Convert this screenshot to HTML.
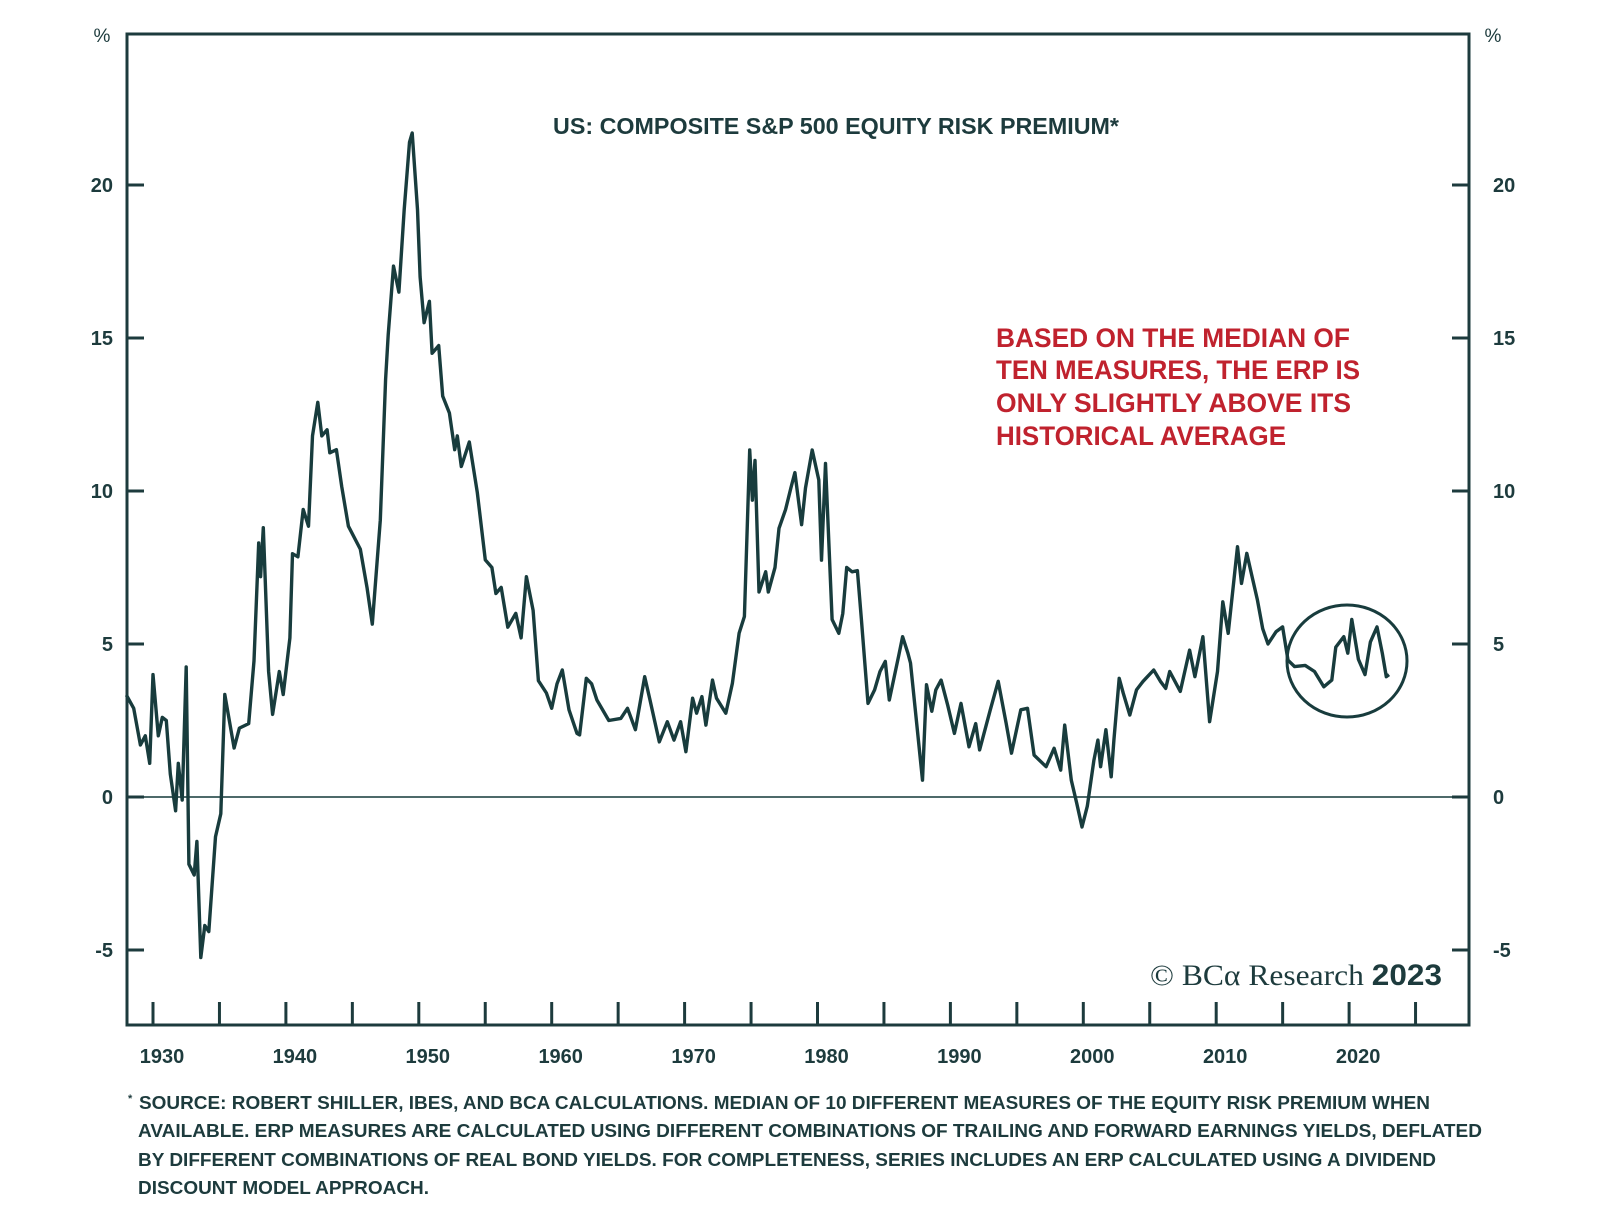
<!DOCTYPE html>
<html><head><meta charset="utf-8"><style>
html,body{margin:0;padding:0;background:#fff;}
svg{display:block;}
text{font-family:"Liberation Sans",sans-serif;fill:#1d3b3d;}
</style></head><body>
<svg id="chart" width="1600" height="1225" viewBox="0 0 1600 1225" xmlns="http://www.w3.org/2000/svg">
<rect x="0" y="0" width="1600" height="1225" fill="#fff"/>
<g id="axes"></g>
<path id="series" fill="none" stroke="#183c3d" stroke-width="3.4" stroke-linejoin="round"/>
<ellipse cx="1347" cy="661" rx="60" ry="56" fill="none" stroke="#183c3d" stroke-width="3"/>
<text x="553" y="134" font-size="23" font-weight="bold" textLength="566" lengthAdjust="spacingAndGlyphs">US: COMPOSITE S&amp;P 500 EQUITY RISK PREMIUM*</text>
<g font-size="27" font-weight="bold">
<text x="996" y="347" style="fill:#c0222e" textLength="354" lengthAdjust="spacingAndGlyphs">BASED ON THE MEDIAN OF</text>
<text x="996" y="379" style="fill:#c0222e" textLength="364" lengthAdjust="spacingAndGlyphs">TEN MEASURES, THE ERP IS</text>
<text x="996" y="412" style="fill:#c0222e" textLength="355" lengthAdjust="spacingAndGlyphs">ONLY SLIGHTLY ABOVE ITS</text>
<text x="996" y="445" style="fill:#c0222e" textLength="290" lengthAdjust="spacingAndGlyphs">HISTORICAL AVERAGE</text>
</g>
<text x="1150" y="985" font-size="30" textLength="292" lengthAdjust="spacingAndGlyphs"><tspan font-family="Liberation Serif, serif">© BCα Research </tspan><tspan font-weight="bold">2023</tspan></text>
<text x="102" y="42" font-size="19" text-anchor="middle">%</text>
<text x="1493" y="42" font-size="19" text-anchor="middle">%</text>
<g font-size="18" font-weight="bold">
<text x="128" y="1102" font-size="11">*</text>
<text x="139" y="1109" textLength="1291" lengthAdjust="spacingAndGlyphs">SOURCE: ROBERT SHILLER, IBES, AND BCA CALCULATIONS. MEDIAN OF 10 DIFFERENT MEASURES OF THE EQUITY RISK PREMIUM WHEN</text>
<text x="138" y="1137" textLength="1344" lengthAdjust="spacingAndGlyphs">AVAILABLE. ERP MEASURES ARE CALCULATED USING DIFFERENT COMBINATIONS OF TRAILING AND FORWARD EARNINGS YIELDS, DEFLATED</text>
<text x="138" y="1166" textLength="1298" lengthAdjust="spacingAndGlyphs">BY DIFFERENT COMBINATIONS OF REAL BOND YIELDS. FOR COMPLETENESS, SERIES INCLUDES AN ERP CALCULATED USING A DIVIDEND</text>
<text x="138" y="1194" textLength="291" lengthAdjust="spacingAndGlyphs">DISCOUNT MODEL APPROACH.</text>
</g>
</svg>
<script>
const years = [1928.0,1928.55,1929.05,1929.42,1929.75,1930.0,1930.4,1930.7,1931.0,1931.3,1931.7,1931.9,1932.2,1932.5,1932.7,1933.1,1933.3,1933.6,1933.9,1934.2,1934.7,1935.1,1935.4,1936.1,1936.5,1937.2,1937.6,1937.95,1938.1,1938.3,1938.7,1939.0,1939.5,1939.8,1940.3,1940.5,1940.9,1941.3,1941.7,1942.0,1942.4,1942.7,1943.1,1943.3,1943.8,1944.2,1944.7,1945.6,1946.1,1946.5,1947.1,1947.5,1947.7,1948.1,1948.5,1948.9,1949.3,1949.5,1949.9,1950.1,1950.4,1950.8,1951.0,1951.5,1951.8,1952.3,1952.7,1952.9,1953.2,1953.8,1954.4,1955.0,1955.5,1955.8,1956.2,1956.7,1957.3,1957.7,1958.1,1958.6,1959.0,1959.6,1960.0,1960.4,1960.8,1961.3,1961.9,1962.1,1962.6,1963.0,1963.4,1964.3,1965.2,1965.7,1966.3,1967.0,1967.4,1968.1,1968.7,1969.2,1969.7,1970.1,1970.6,1970.9,1971.3,1971.6,1972.1,1972.4,1973.1,1973.6,1974.1,1974.5,1974.9,1975.1,1975.3,1975.6,1976.1,1976.3,1976.8,1977.1,1977.6,1978.0,1978.3,1978.8,1979.1,1979.6,1980.1,1980.3,1980.6,1981.1,1981.6,1981.9,1982.2,1982.6,1983.0,1983.3,1983.8,1984.3,1984.7,1985.1,1985.4,1986.1,1986.4,1986.8,1987.0,1987.9,1988.2,1988.6,1988.9,1989.3,1989.8,1990.3,1990.8,1991.4,1991.9,1992.2,1993.0,1993.6,1994.2,1994.6,1995.3,1995.8,1996.3,1997.2,1997.8,1998.3,1998.6,1999.1,1999.5,1999.9,2000.3,2000.8,2001.1,2001.3,2001.7,2002.1,2002.3,2002.7,2003.0,2003.5,2004.0,2004.5,2005.3,2005.8,2006.2,2006.5,2007.3,2008.0,2008.4,2009.0,2009.5,2010.1,2010.5,2010.9,2011.6,2011.9,2012.3,2012.7,2013.1,2013.5,2013.9,2014.5,2015.0,2015.4,2015.9,2016.7,2017.4,2018.1,2018.7,2019.0,2019.6,2019.9,2020.2,2020.7,2021.2,2021.6,2022.1,2022.5,2022.8,2023.0];
const erp = [3.33,2.9,1.7,2.0,1.1,4.0,2.0,2.6,2.5,0.75,-0.45,1.1,-0.1,4.25,-2.2,-2.55,-1.45,-5.25,-4.2,-4.4,-1.3,-0.55,3.35,1.6,2.25,2.4,4.45,8.3,7.2,8.8,4.1,2.7,4.1,3.35,5.2,7.95,7.85,9.4,8.85,11.8,12.9,11.8,12.0,11.25,11.35,10.15,8.85,8.1,6.85,5.65,9.05,13.65,15.1,17.35,16.5,19.2,21.4,21.7,19.2,17.0,15.5,16.2,14.5,14.75,13.1,12.55,11.35,11.8,10.8,11.6,9.95,7.75,7.5,6.65,6.85,5.55,6.0,5.2,7.2,6.1,3.8,3.4,2.9,3.7,4.15,2.85,2.08,2.03,3.88,3.7,3.17,2.5,2.57,2.9,2.2,3.93,3.17,1.8,2.46,1.86,2.46,1.48,3.23,2.74,3.28,2.35,3.82,3.23,2.74,3.72,5.35,5.9,11.34,9.7,11.0,6.7,7.36,6.7,7.5,8.78,9.4,10.1,10.6,8.9,10.1,11.34,10.36,7.74,10.9,5.8,5.35,6.0,7.5,7.36,7.4,5.8,3.06,3.5,4.1,4.43,3.17,4.6,5.24,4.7,4.38,0.55,3.67,2.8,3.5,3.82,3.0,2.08,3.06,1.64,2.4,1.54,2.85,3.78,2.4,1.43,2.85,2.9,1.37,0.99,1.59,0.88,2.35,0.55,-0.2,-0.98,-0.3,1.2,1.86,0.99,2.2,0.66,1.86,3.88,3.4,2.68,3.5,3.78,4.15,3.78,3.55,4.1,3.45,4.8,3.93,5.24,2.46,4.1,6.38,5.35,8.18,6.98,7.96,7.2,6.44,5.5,5.0,5.4,5.56,4.47,4.26,4.3,4.1,3.6,3.82,4.9,5.24,4.7,5.8,4.5,4.0,5.07,5.56,4.7,3.93,4.0];
const yTicks = [-5,0,5,10,15,20];
const yTickLabels = ["-5","0","5","10","15","20"];
const xTickYears = [1930,1935,1940,1945,1950,1955,1960,1965,1970,1975,1980,1985,1990,1995,2000,2005,2010,2015,2020,2025];
const xLabelYears = [1930,1940,1950,1960,1970,1980,1990,2000,2010,2020];

const L=127,R=1469,T=34,B=1025;
function xs(yr){return 153+(yr-1930)*13.29;}
function ys(v){return 797-v*30.6;}
const NS="http://www.w3.org/2000/svg";
const ax=document.getElementById('axes');
function mk(tag,attrs){const e=document.createElementNS(NS,tag);for(const k in attrs)e.setAttribute(k,attrs[k]);ax.appendChild(e);return e;}

const frame=mk('rect',{x:L,y:T,width:R-L,height:B-T,fill:'none',stroke:'#1d3b3d','stroke-width':3});


const zl=mk('line',{x1:L,x2:R,y1:ys(0),y2:ys(0),stroke:'#4d6a6a','stroke-width':2});



yTicks.forEach((v,i)=>{
  const y=ys(v);
  const t1=mk('line',{x1:L,x2:L+17,y1:y,y2:y,stroke:'#1d3b3d','stroke-width':3});
  
  
  const t2=mk('line',{x1:R-17,x2:R,y1:y,y2:y,stroke:'#1d3b3d','stroke-width':3});
  
  
  const a=mk('text',{x:113,y:y+7,'font-size':20,'font-weight':'bold','text-anchor':'end'});
  a.textContent=yTickLabels[i];
  
  
  const b=mk('text',{x:1493,y:y+7,'font-size':20,'font-weight':'bold','text-anchor':'start'});
  b.textContent=yTickLabels[i];
  
  
});
xTickYears.forEach(yr=>{
  const x=xs(yr);
  const t=mk('line',{x1:x,x2:x,y1:B-23,y2:B,stroke:'#1d3b3d','stroke-width':3});
  
  
});
xLabelYears.forEach(yr=>{
  const t=mk('text',{x:xs(yr)+9,y:1063,'font-size':20,'font-weight':'bold','text-anchor':'middle'});
  t.textContent=String(yr);
  
  
});
let d='';
years.forEach((yr,i)=>{d+=(i?'L':'M')+xs(yr).toFixed(1)+','+ys(erp[i]).toFixed(1);});
document.getElementById('series').setAttribute('d',d);
</script>
</body></html>
